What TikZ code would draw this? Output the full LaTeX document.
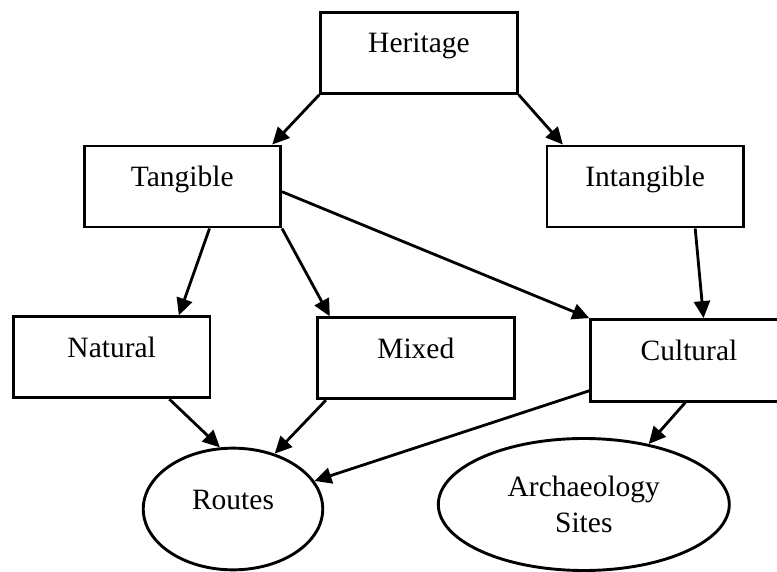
\documentclass[tikz,border=0pt]{standalone}
\usepackage{fontspec}
\setmainfont{Liberation Serif}
\usetikzlibrary{arrows.meta,shapes.geometric}
\begin{document}
\begin{tikzpicture}[x=1pt,y=-1pt,
  every node/.style={font=\fontsize{29.5}{36}\selectfont},
  box/.style={draw, line width=2.9pt, rectangle, minimum width=196.5pt,
    minimum height=81pt, text height=20pt, text depth=20pt},
  oval/.style={draw, line width=2.9pt, ellipse},
  link/.style={line width=2.8pt, -{Triangle[length=17pt,width=16pt]}}]
  \useasboundingbox (0,0) rectangle (777,572);

  % category boxes
  \node[box] (heritage)   at (419,52.8)    {Heritage};
  \node[box] (tangible)   at (182.3,186.5) {Tangible};
  \node[box] (intangible) at (645.2,186.5) {Intangible};
  \node[box] (natural)    at (111.7,357.3) {Natural};
  \node[box] (mixed)      at (415.8,358.3) {Mixed};
  \node[box, minimum height=81.5pt] (cultural) at (689,360.3) {Cultural};

  % leaf ellipses
  \node[oval, minimum width=179.5pt, minimum height=121.7pt, text height=20pt, text depth=20pt]
    (routes) at (233,509) {Routes};
  \node[oval, minimum width=291pt, minimum height=132pt, align=center]
    (sites) at (583.8,504.5) {Archaeology\\Sites};

  % connectors
  \draw[link] (heritage.south west) -- (tangible.25.6);
  \draw[link] (heritage.south east) -- (intangible.153.2);
  \draw[link] (tangible.303.4) -- (natural.32.7);
  \draw[link] (tangible.south east) -- (mixed.154.9);
  \draw[link] (tangible.-3) -- (cultural.north west);
  \draw[link] (intangible.-40.1) -- (cultural.71.9);
  \draw[link] (natural.-36.5) -- (routes.102.7);
  \draw[link] (mixed.205.1) -- (routes.53.1);
  \draw[link] (cultural.197.2) -- (routes.19.1);
  \draw[link] (cultural.265.8) -- (sites.43.9);
\end{tikzpicture}
\end{document}
